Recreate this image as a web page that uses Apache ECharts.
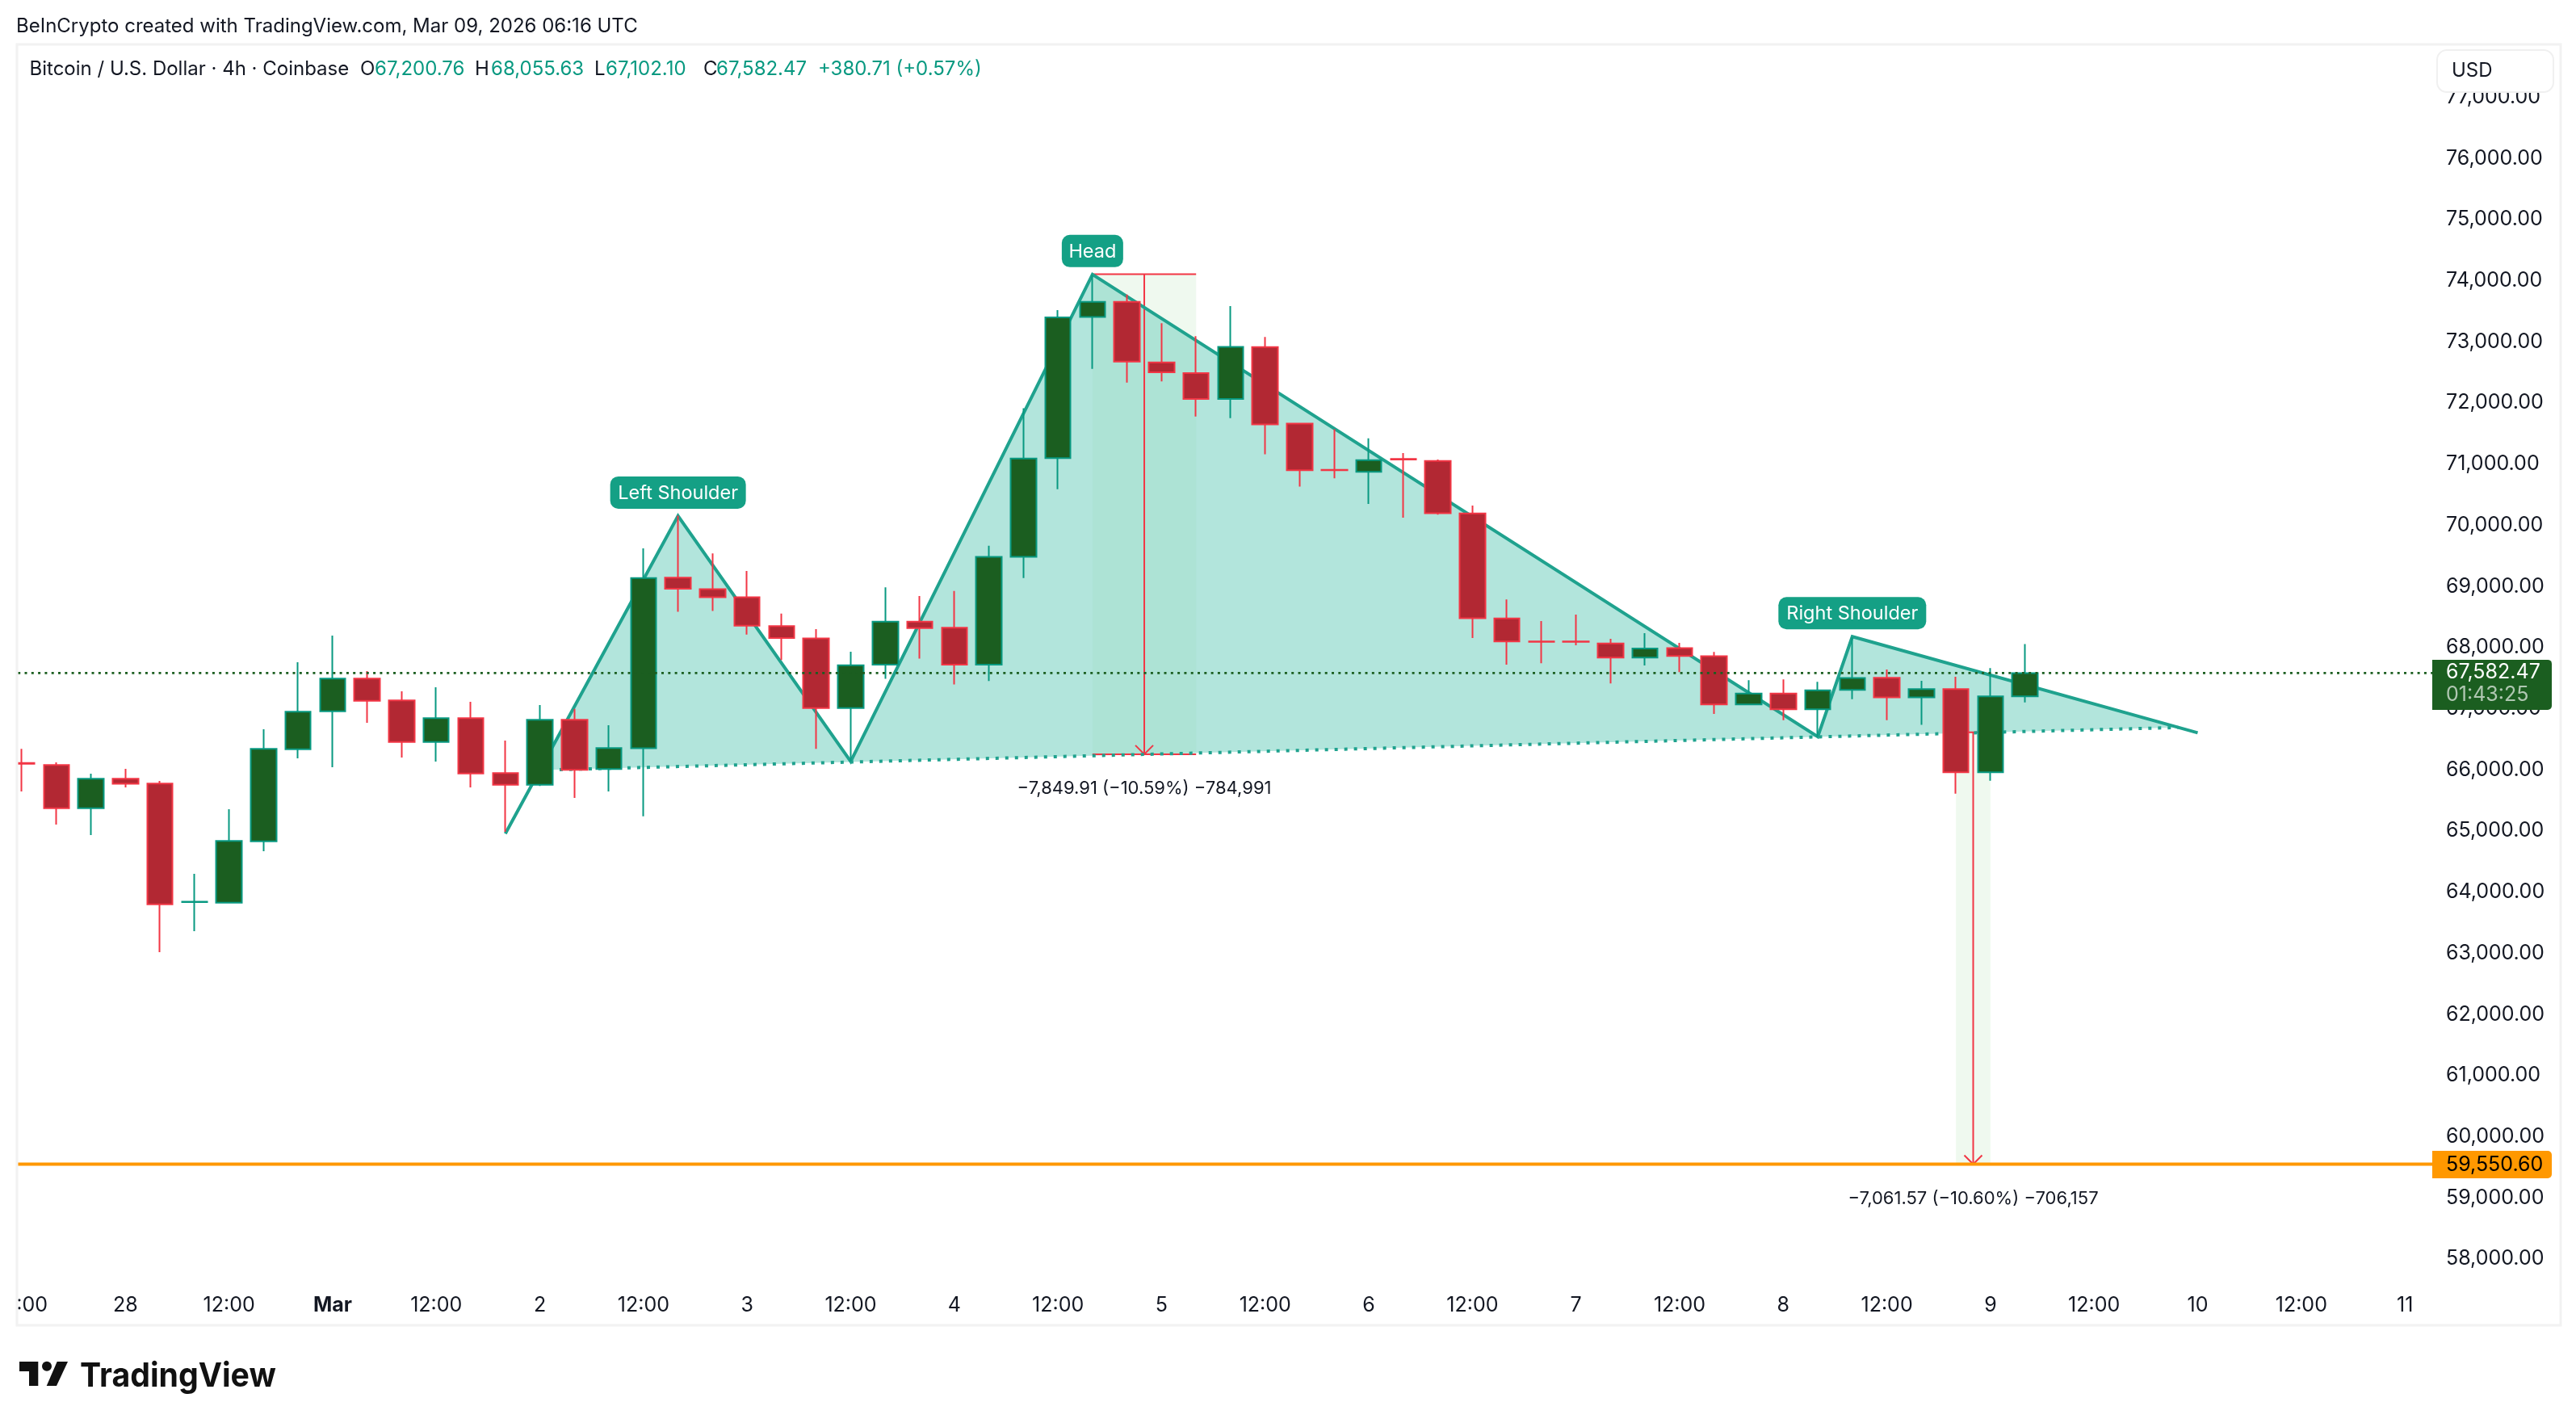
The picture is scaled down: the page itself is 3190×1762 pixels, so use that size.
<!DOCTYPE html>
<html><head><meta charset="utf-8">
<style>html,body{margin:0;padding:0;background:#fff}#c{width:3190px;height:1762px}</style>
<script src="https://cdn.jsdelivr.net/npm/echarts@6/dist/echarts.min.js"></script>
</head><body><div id="c"></div>
<script>
const tickLabels = ['12:00','28','12:00','Mar','12:00','2','12:00','3','12:00','4','12:00','5','12:00','6','12:00','7','12:00','8','12:00','9','12:00','10','12:00','11'];
const opens  = [66112,66078,65373,65853,65774,63836,63828,64832,66337,66958,67491,67134,66456,66844,65946,65756,66817,66012,66351,69141,68954,68823,68350,68150,67010,67720,68424,68325,67720,69484,71098,73404,73653,72662,72488,72064,72914,71660,70905,70872,71085,71051,70193,68476,68100,68098,68065,67834,67990,67858,67070,67249,66990,67306,67504,67183,67319,65959,67200.76];
const highs  = [66342,66122,65937,66016,65818,64299,65356,66663,67759,68195,67614,67284,67350,67112,66478,67059,66998,66729,69621,70157,69540,69253,68555,68300,67932,68985,68842,68923,69664,71914,73516,74096,73772,73304,73092,73584,73079,71670,71570,71419,71178,71075,70320,68787,68433,68537,68141,68235,68075,67928,67466,67480,67438,68169,67640,67456,67522,67663,68055.63];
const lows   = [65646,65105,64933,65712,63018,63362,63820,64669,66188,66043,66769,66201,66135,65712,64986,65734,65541,65646,65241,68586,68599,68212,67795,66343,66137,67490,67820,67396,67452,69135,70587,72556,72332,72351,71777,71750,71160,70631,70768,70348,70122,70174,68155,67721,67744,68037,67414,67707,67598,66914,67070,66810,66541,67156,66813,66734,65611,65822,67102.10];
const closes = [66100,65373,65853,65770,63802,63845,64836,66342,66949,67491,67130,66456,66844,65941,65756,66817,65998,66355,69135,68960,68823,68356,68156,67010,67708,68424,68318,67720,69484,71092,73398,73653,72675,72500,72064,72916,71650,70900,70900,71065,71075,70197,68480,68098,68094,68092,67834,67985,67862,67070,67249,66990,67300,67500,67183,67319,65959,67201,67582.47];
const patternPoints = [[14,64955],[19,70151],[24,66137],[31,74100],[52,66542],[53,68178],[63,66606]];
const necklineStart = [15.01,65995];
const necklineEnd = [62.44,66692];
const badges = [['Left Shoulder',19,70151],['Head',31,74100],['Right Shoulder',53,68178]];
const measures = [
  {from:31,to:34,top:74105,bottom:66255,text:'\u22127,849.91 (\u221210.59%) \u2212784,991'},
  {from:56,to:57,top:66612,bottom:59550.6,text:'\u22127,061.57 (\u221210.60%) \u2212706,157'}
];
const targetPrice = 59550.60;
const currentPrice = 67582.47;
const countdown = '01:43:25';

const FONT='Inter, "Noto Sans", sans-serif', INK='#131722', UP='#089981';
const BAR=42.77, N=71, FIRST=27;
const gridLeft=FIRST-BAR/2, gridTop=44.56, gridH=1590.12;
const categories=Array.from({length:N},(_,i)=>i%3===0?tickLabels[i/3]:'');
const fmt=v=>Number(v).toLocaleString('en-US',{minimumFractionDigits:2,maximumFractionDigits:2});

function polyFill(params,api){
  const pts=[necklineStart,...patternPoints.slice(1,6),necklineEnd].map(p=>api.coord(p));
  return {type:'polygon',shape:{points:pts},style:{fill:'#b2e5dc'}};
}
function measureBg(params,api){
  const m=measures[params.dataIndex];
  const a=api.coord([m.from,m.top]), b=api.coord([m.to,m.bottom]);
  return {type:'rect',shape:{x:a[0],y:a[1],width:b[0]-a[0],height:b[1]-a[1]},style:{fill:'rgba(76,175,80,0.042)'}};
}
function measureLines(params,api){
  const m=measures[params.dataIndex];
  const a=api.coord([m.from,m.top]), b=api.coord([m.to,m.bottom]), mx=(a[0]+b[0])/2;
  const st={stroke:'#f23645',lineWidth:2,fill:null};
  return {type:'group',children:[
    {type:'line',shape:{x1:a[0],y1:a[1],x2:b[0],y2:a[1]},style:st},
    {type:'line',shape:{x1:a[0],y1:b[1],x2:b[0],y2:b[1]},style:st},
    {type:'line',shape:{x1:mx,y1:a[1],x2:mx,y2:b[1]},style:st},
    {type:'polyline',shape:{points:[[mx-11,b[1]-11],[mx,b[1]],[mx+11,b[1]-11]]},style:st}
  ]};
}
function measureText(params,api){
  const m=measures[params.dataIndex];
  const a=api.coord([m.from,m.bottom]), b=api.coord([m.to,m.bottom]);
  return {type:'text',style:{text:m.text,x:(a[0]+b[0])/2,y:b[1]+42.5,textAlign:'center',textVerticalAlign:'middle',fill:INK,font:'22px '+FONT}};
}
const badgeW={'Left Shoulder':168,'Head':76,'Right Shoulder':183};
function badge(params,api){
  const b=badges[params.dataIndex], p=api.coord([b[1],b[2]]), w=badgeW[b[0]];
  return {type:'group',children:[
    {type:'rect',shape:{x:p[0]-w/2,y:p[1]-49,width:w,height:40,r:10},style:{fill:'#14a085'}},
    {type:'text',style:{text:b[0],x:p[0],y:p[1]-28,textAlign:'center',textVerticalAlign:'middle',fill:'#fff',font:'23.5px '+FONT}}
  ]};
}
function priceTag(params,api){
  const y=api.coord([0,currentPrice])[1];
  const t=api.coord([0,targetPrice])[1];
  return {type:'group',children:[
    {type:'rect',shape:{x:3012,y:y-16.5,width:148,height:62,r:[0,5,5,0]},style:{fill:'#1b5e20'}},
    {type:'text',style:{text:fmt(currentPrice),x:3029,y:y-0.5,textVerticalAlign:'middle',fill:'#fff',font:'25px '+FONT}},
    {type:'text',style:{text:countdown,x:3029,y:y+27.5,textVerticalAlign:'middle',fill:'rgba(255,255,255,0.65)',font:'25px '+FONT}},
    {type:'rect',shape:{x:3012,y:t-16.5,width:148,height:34,r:[0,5,5,0]},style:{fill:'#ff9800'}},
    {type:'text',style:{text:fmt(targetPrice),x:3029,y:t+0.5,textVerticalAlign:'middle',fill:'#000',font:'25px '+FONT}}
  ]};
}
const custom=(id,z,fn,n)=>({type:'custom',id,z,xAxisIndex:1,yAxisIndex:0,silent:true,clip:false,animation:false,data:Array.from({length:n||1},(_,i)=>[i,70000]),encode:{x:0,y:1},renderItem:fn});
const lineS=(id,z,data,ls)=>({type:'line',id,z,xAxisIndex:1,yAxisIndex:0,data,silent:true,animation:false,showSymbol:false,symbol:'none',clip:true,lineStyle:ls});

const chart=echarts.init(document.getElementById('c'),null,{renderer:'canvas'});
const txt=(text,x,y,fill)=>({type:'text',z:200,style:{text,x,y,fill:fill||INK,font:'24px '+FONT,textVerticalAlign:'middle'}});
chart.setOption({
  animation:false,backgroundColor:'#fff',
  grid:{left:gridLeft,top:gridTop,width:BAR*N,height:gridH,containLabel:false,outerBoundsMode:'none'},
  xAxis:[
    {type:'category',data:categories,boundaryGap:true,axisLine:{show:false},axisTick:{show:false},splitLine:{show:false},
     axisLabel:{interval:2,showMinLabel:true,showMaxLabel:true,margin:-18.2,verticalAlign:'middle',fontFamily:FONT,fontSize:25,color:INK,hideOverlap:false,
       formatter:v=>v==='Mar'?'{b|Mar}':v,rich:{b:{fontWeight:700,fontFamily:FONT,fontSize:25,color:INK}}}},
    {type:'value',min:-0.5,max:N-0.5,show:false,splitLine:{show:false}}
  ],
  yAxis:[{type:'value',position:'right',min:57000,max:78000,interval:1000,axisLine:{show:false},axisTick:{show:false},splitLine:{show:false},
     axisLabel:{margin:-13.3,align:'left',fontFamily:FONT,fontSize:25,color:INK,showMinLabel:false,showMaxLabel:false,formatter:v=>(v<=57000||v>=78000)?'':fmt(v)}}],
  series:[
    custom('measureBg',1,measureBg,2),
    custom('patternFill',2,polyFill),
    custom('measureTint',3,measureBg,2),
    lineS('pattern',4,patternPoints,{color:'#1fa28e',width:4,join:'miter'}),
    lineS('neckline',4,[necklineStart,necklineEnd],{color:'#1fa28e',width:4,type:[4,8],cap:'butt'}),
    custom('measureLines',4,measureLines,2),
    {type:'candlestick',id:'btc',z:5,xAxisIndex:0,yAxisIndex:0,barWidth:32,silent:true,animation:false,clip:true,
     data:opens.map((o,i)=>[o,closes[i],lows[i],highs[i]]),
     itemStyle:{color:'#1b5e20',color0:'#b22833',borderColor:UP,borderColor0:'#f23645',borderWidth:2}},
    lineS('current',6,[[-0.5,currentPrice],[N-0.5,currentPrice]],{color:'#1b5e20',width:2.6,type:[3,5.3]}),
    lineS('target',6,[[-0.5,targetPrice],[N-0.5,targetPrice]],{color:'#ff9800',width:4}),
    custom('measureText',8,measureText,2),
    custom('badges',8,badge,3),
    custom('tags',9,priceTag)
  ],
  graphic:{elements:[
    {type:'rect',z:190,shape:{x:0,y:40,width:20,height:1620},style:{fill:'#fff'}},
    {type:'rect',z:190,shape:{x:21,y:55,width:3150,height:1586},style:{fill:null,stroke:'#f2f2f2',lineWidth:3}},
    {type:'rect',z:195,shape:{x:3018,y:62,width:144,height:52,r:12},style:{fill:'#fff',stroke:'#f0f0f0',lineWidth:2}},
    txt('USD',3036,88),
    txt('BeInCrypto created with TradingView.com, Mar 09, 2026 06:16 UTC',20,33),
    txt('Bitcoin / U.S. Dollar \u00b7 4h \u00b7 Coinbase',36.5,86),
    txt('O',446,86),txt('67,200.76',464,86,UP),
    txt('H',588,86),txt('68,055.63',608,86,UP),
    txt('L',736,86),txt('67,102.10',750,86,UP),
    txt('C',871,86),txt('67,582.47',887,86,UP),
    txt('+380.71 (+0.57%)',1013,86,UP),
    {type:'polygon',z:200,shape:{points:[[24,1686],[47.3,1686],[47.3,1716],[36,1716],[36,1698],[24,1698]]},style:{fill:'#111'}},
    {type:'circle',z:200,shape:{cx:58,cy:1691.7,r:6},style:{fill:'#111'}},
    {type:'polygon',z:200,shape:{points:[[70.7,1686],[84,1686],[70,1716],[57.7,1716]]},style:{fill:'#111'}},
    {type:'text',z:200,x:99,y:1705,scaleX:0.945,style:{text:'TradingView',x:0,y:0,fill:'#111',font:'700 41.5px '+FONT,textVerticalAlign:'middle'}}
  ]}
});
</script></body></html>
